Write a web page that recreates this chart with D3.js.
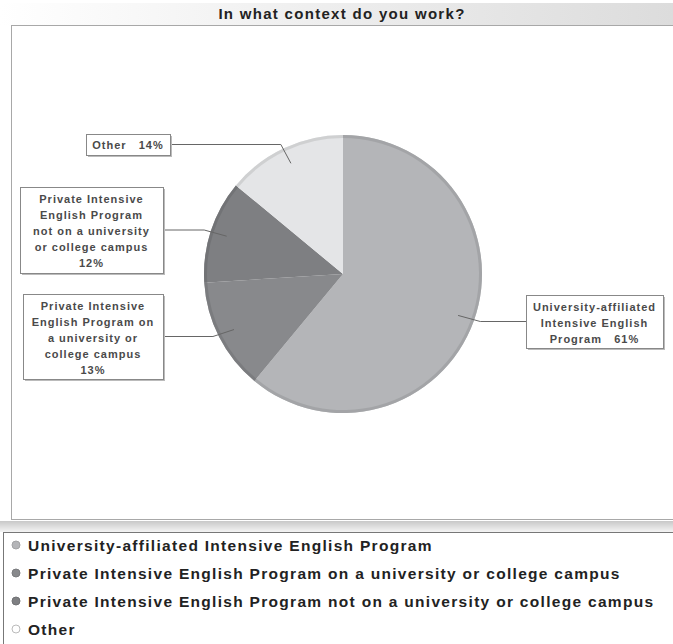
<!DOCTYPE html>
<html>
<head>
<meta charset="utf-8">
<script src="https://cdn.jsdelivr.net/npm/d3@7"></script>
<style>
  body { margin: 0; background: #fff; }
  svg { display: block; font-family: "Liberation Sans", Arial, sans-serif; }
</style>
</head>
<body>
<div id="chart"></div>
<script>
// chart size
const width = 673;
const height = 644;

// data
const categories = [
  "University-affiliated Intensive English Program",
  "Private Intensive English Program on a university or college campus",
  "Private Intensive English Program not on a university or college campus",
  "Other"
];
const percents = [61, 13, 12, 14];
const sliceLabels = [
  ["University-affiliated", "Intensive English", "Program\u00a0\u00a0\u00a061%"],
  ["Private Intensive", "English Program on", "a university or", "college campus", "13%"],
  ["Private Intensive", "English Program", "not on a university", "or college campus", "12%"],
  ["Other\u00a0\u00a0\u00a014%"]
];
const colors = ["#b4b5b8", "#88898c", "#7e7f82", "#e4e5e7"];

// label boxes (layout only)
const boxes = [
  {x: 526, y: 295, w: 137, h: 53, side: "left"},
  {x: 23, y: 294, w: 140, h: 85, side: "right"},
  {x: 20, y: 187, w: 143, h: 86, side: "right"},
  {x: 86, y: 134, w: 84, h: 21, side: "right"}
];

const cx = 343, cy = 274, r = 139;

const svg = d3.select("#chart")
  .append("svg")
  .attr("width", width)
  .attr("height", height);

const defs = svg.append("defs");
const tg = defs.append("linearGradient").attr("id", "titleGrad");
tg.append("stop").attr("offset", "0%").attr("stop-color", "#ffffff");
tg.append("stop").attr("offset", "100%").attr("stop-color", "#dcdcdc");

const sg = defs.append("linearGradient").attr("id", "sepGrad")
  .attr("x1", 0).attr("y1", 0).attr("x2", 0).attr("y2", 1);
sg.append("stop").attr("offset", "0%").attr("stop-color", "#c8c8c8");
sg.append("stop").attr("offset", "100%").attr("stop-color", "#f4f4f4");

// title bar
svg.append("rect")
  .attr("x", 0).attr("y", 3)
  .attr("width", width).attr("height", 23)
  .attr("fill", "url(#titleGrad)");

svg.append("text")
  .attr("x", 342).attr("y", 19)
  .attr("text-anchor", "middle")
  .attr("font-size", "15px")
  .attr("font-weight", "bold")
  .attr("letter-spacing", "1.3px")
  .attr("fill", "#222")
  .text("In what context do you work?");

// plot area frame
svg.append("rect")
  .attr("x", 11.5).attr("y", 25.5)
  .attr("width", width).attr("height", 494)
  .attr("fill", "#fff")
  .attr("stroke", "#a8a8a8");

svg.append("rect")
  .attr("x", 0).attr("y", 521)
  .attr("width", width).attr("height", 11)
  .attr("fill", "url(#sepGrad)");

// pie
const pie = d3.pie().sort(null).value(d => d).startAngle(0).endAngle(2 * Math.PI);
const arcs = pie(percents);

const arc = d3.arc().innerRadius(0).outerRadius(r);
const rimArc = d3.arc().innerRadius(r - 3).outerRadius(r);
const anchorArc = d3.arc().innerRadius(r * 0.88).outerRadius(r * 0.88);
const elbowArc = d3.arc().innerRadius(r * 1.05).outerRadius(r * 1.05);

const g = svg.append("g").attr("transform", `translate(${cx},${cy})`);

g.selectAll("path.slice")
  .data(arcs)
  .enter()
  .append("path")
  .attr("class", "slice")
  .attr("d", arc)
  .attr("fill", (d, i) => colors[i]);

// darker rim for a slight 3d look
g.selectAll("path.rim")
  .data(arcs)
  .enter()
  .append("path")
  .attr("class", "rim")
  .attr("d", rimArc)
  .attr("fill", (d, i) => d3.color(colors[i]).darker(0.35))
  .attr("opacity", 0.8);

// leader lines
arcs.forEach((d, i) => {
  const a = anchorArc.centroid(d);
  const e = elbowArc.centroid(d);
  const b = boxes[i];
  const by = b.y + b.h / 2;
  const bx = b.side === "left" ? b.x : b.x + b.w;
  const pts = [[a[0] + cx, a[1] + cy], [e[0] + cx, by], [bx, by]];
  svg.append("path")
    .attr("d", d3.line()(pts))
    .attr("fill", "none")
    .attr("stroke", "#666")
    .attr("stroke-width", 1);
});

// label boxes
categories.forEach((c, i) => {
  const b = boxes[i];
  svg.append("rect")
    .attr("x", b.x + 2).attr("y", b.y + 2)
    .attr("width", b.w).attr("height", b.h)
    .attr("fill", "#bbb");
  svg.append("rect")
    .attr("x", b.x + 0.5).attr("y", b.y + 0.5)
    .attr("width", b.w).attr("height", b.h)
    .attr("fill", "#fff")
    .attr("stroke", "#888");
  const lines = sliceLabels[i];
  const t = svg.append("text")
    .attr("text-anchor", "middle")
    .attr("font-size", "11px")
    .attr("font-weight", "bold")
    .attr("letter-spacing", "1px")
    .attr("fill", "#4a4a4a");
  lines.forEach((ln, j) => {
    t.append("tspan")
      .attr("x", b.x + b.w / 2)
      .attr("y", lines.length === 1 ? b.y + b.h / 2 + 4 : b.y + 15.5 + j * 16)
      .text(ln);
  });
});

// legend
svg.append("rect")
  .attr("x", 3.5).attr("y", 532.5)
  .attr("width", width).attr("height", 120)
  .attr("fill", "#fff")
  .attr("stroke", "#777");

const legendY = d3.scalePoint()
  .domain(d3.range(categories.length))
  .range([545, 629]);

const leg = svg.selectAll("g.legend")
  .data(categories)
  .enter()
  .append("g")
  .attr("class", "legend")
  .attr("transform", (d, i) => `translate(0,${legendY(i)})`);

leg.append("circle")
  .attr("cx", 16).attr("cy", 0)
  .attr("r", 4)
  .attr("fill", (d, i) => i === 3 ? "#fff" : colors[i])
  .attr("stroke", (d, i) => i === 3 ? "#bbb" : d3.color(colors[i]).darker(0.3));

leg.append("text")
  .attr("x", 28).attr("y", 5.5)
  .attr("font-size", "15.5px")
  .attr("font-weight", "bold")
  .attr("letter-spacing", "1.3px")
  .attr("fill", "#222")
  .text(d => d);
</script>
</body>
</html>
